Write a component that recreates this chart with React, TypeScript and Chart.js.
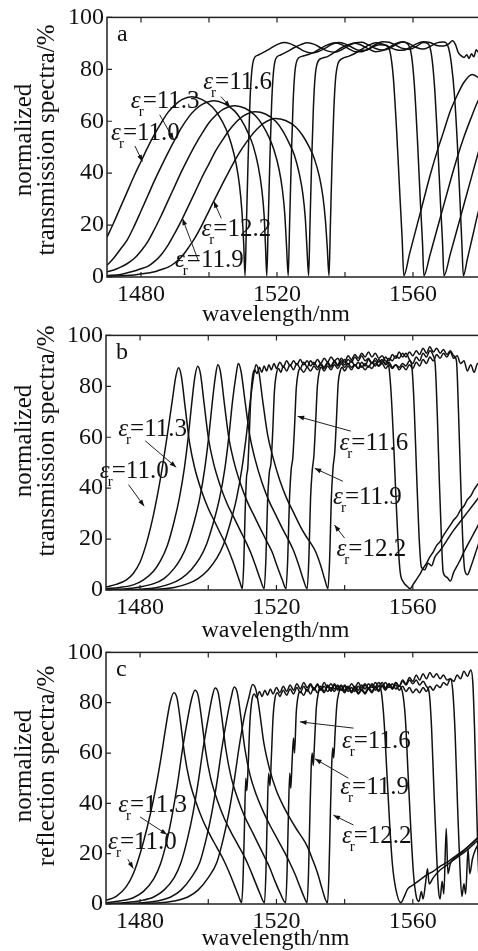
import React, { useEffect, useRef } from 'react';
import { Chart, registerables } from 'chart.js';
Chart.register(...registerables);

type P = [number, number];

const xTicks = [1480, 1500, 1520, 1540, 1560, 1580];
const xLabeled = [1480, 1520, 1560];
const yTicks = [0, 20, 40, 60, 80, 100];
const epsValues = ['11.0', '11.3', '11.6', '11.9', '12.2'];

// ---------- panel a: transmission (case a) ----------
const a110: P[] = [
  [1470, 15.3], [1472, 21], [1474, 27], [1476, 33], [1478, 39], [1480, 44.5], [1482, 50], [1484, 55], [1486, 59.5], [1488, 63.5],
  [1490, 66.3], [1492, 68.3], [1495, 69.4], [1498, 68.3], [1501, 65.5], [1503, 62], [1505, 57], [1506.5, 51.5], [1508, 43.5], [1509, 35], [1509.7, 25],
  [1510.2, 13], [1510.6, 0.5], [1511, 20], [1511.5, 45], [1512, 66], [1512.5, 78], [1513.2, 84], [1514.5, 85.5], [1516, 86.5], [1518, 88], [1520, 89.5],
  [1522, 90.3], [1524, 89.8], [1526, 88.5], [1528, 87], [1530, 86.3], [1532, 86.8], [1534, 88], [1536, 89.5], [1538, 90.3], [1540, 89.8], [1542, 88.5],
  [1544, 87.3], [1546, 87.3], [1548, 88.5], [1550, 89.5], [1552, 89.3], [1553.2, 87], [1554.2, 77], [1555.2, 56], [1556.2, 30], [1556.8, 15], [1557.3, 0.5],
  [1559, 9], [1561, 19], [1563, 29], [1565, 39], [1567, 48], [1569, 56], [1571, 64], [1573, 70], [1575, 75], [1577.4, 78], [1579, 77], [1580, 76],
];
const a113: P[] = [
  [1470, 4.5], [1472, 7.3], [1474, 10.8], [1476, 14.4], [1478, 19.6], [1480, 25.4], [1482, 31.3], [1484, 37.2], [1486, 42.7], [1488, 48], [1490, 53],
  [1492, 57.7], [1494, 61.6], [1496, 64.5], [1498, 66.5], [1501.5, 67.9], [1504.5, 66.8], [1507.5, 64], [1509.5, 60.5], [1511.5, 55.5], [1513, 50.5],
  [1514.5, 42.5], [1515.5, 34], [1516.2, 24], [1516.6, 12.5], [1517, 0.5], [1517.4, 20], [1517.9, 45], [1518.4, 66], [1518.9, 78], [1519.6, 84],
  [1521, 85.5], [1523, 86.8], [1525, 88.3], [1527, 89.5], [1529, 90.2], [1531, 89.6], [1533, 88.2], [1535, 87], [1537, 86.6], [1539, 87.5],
  [1541, 89], [1543, 90.2], [1545, 90.4], [1547, 89.3], [1549, 88], [1551, 87.4], [1553, 88], [1555, 89.5], [1557, 90.5], [1558.6, 89.5],
  [1559.6, 85], [1560.4, 74], [1561.3, 53], [1562.2, 28], [1562.8, 13], [1563.2, 0.5], [1565, 8.5], [1567, 18], [1569, 27.5], [1571, 37], [1573, 46],
  [1575, 54], [1577, 61], [1579, 67.5], [1580, 70],
];
const a116: P[] = [
  [1470, 2], [1472, 2.7], [1474, 3.8], [1476, 5.2], [1478, 7.1], [1480, 10], [1482, 13.6], [1484, 18.5], [1486, 23.8], [1488, 29.5], [1490, 35.2],
  [1492, 40.9], [1494, 46.1], [1496, 51], [1498, 55.4], [1500, 59.4], [1502, 62.3], [1504, 64.5], [1507.6, 66], [1510.6, 65], [1513.6, 62.2],
  [1515.6, 58.8], [1517.6, 54], [1519.1, 49], [1520.6, 41.5], [1521.6, 33.5], [1522.3, 24], [1522.8, 12], [1523.3, 0.5], [1523.7, 20], [1524.2, 45],
  [1524.7, 66], [1525.2, 78], [1525.9, 83.5], [1527.3, 85], [1529, 85.6], [1531, 86.6], [1533, 88.2], [1535, 89.5], [1537, 90.2], [1539, 89.5],
  [1541, 88], [1543, 86.8], [1545, 86.8], [1547, 88], [1549, 89.6], [1551, 90.6], [1553, 90.4], [1555, 89.2], [1557, 88], [1559, 87.7],
  [1561, 88.8], [1563, 90.3], [1564.5, 89.8], [1565.5, 85], [1566.3, 74], [1567.2, 53], [1568.1, 28], [1568.7, 13], [1569.1, 0.5], [1571, 9],
  [1573, 18.5], [1575, 28], [1577, 37.5], [1579, 47], [1580, 51.5],
];
const a119: P[] = [
  [1470, 0.6], [1474, 1], [1476, 1.6], [1478, 2.3], [1480, 3.2], [1482, 4.1], [1484, 6], [1486, 8.7], [1488, 12.4], [1490, 17], [1492, 22],
  [1494, 27.5], [1496, 33], [1498, 38.6], [1500, 43.6], [1502, 48.7], [1504, 52.8], [1506, 56.6], [1508, 59.7], [1510, 62], [1513.6, 63.7],
  [1516.6, 62.8], [1519.6, 60], [1521.6, 56.5], [1523.6, 51.5], [1525.1, 47], [1526.6, 39.5], [1527.6, 32], [1528.3, 23], [1528.8, 11.5],
  [1529.3, 0.5], [1529.7, 20], [1530.2, 45], [1530.7, 65], [1531.2, 77], [1531.9, 82.5], [1533.3, 84.3], [1535, 85], [1537, 86.6], [1539, 88.3],
  [1541, 89.5], [1543, 90], [1545, 89.2], [1547, 87.8], [1549, 86.8], [1551, 87.2], [1553, 88.5], [1555, 90], [1557, 90.6], [1559, 89.8],
  [1561, 88.4], [1563, 87.8], [1565, 88.8], [1567, 90.2], [1569, 90.5], [1570.4, 88.5], [1571.3, 82], [1572.2, 70], [1573.1, 50], [1573.9, 27],
  [1574.4, 12], [1574.8, 0.5], [1576, 7], [1577.5, 15.5], [1579, 24], [1580, 29],
];
const a122: P[] = [
  [1470, 0.2], [1478, 0.8], [1482, 1.5], [1484, 2], [1486, 2.9], [1488, 3.8], [1490, 5.5], [1492, 7.9], [1494, 11.4], [1496, 15.4], [1498, 20.2],
  [1500, 25.5], [1502, 30.8], [1504, 36], [1506, 41], [1508, 45.8], [1510, 50], [1512, 53.7], [1514, 56.8], [1516, 59.2], [1519.5, 61.1],
  [1522.5, 60.3], [1525.5, 57.8], [1527.5, 54.6], [1529.5, 50], [1531, 45.5], [1532.5, 38.5], [1533.5, 31], [1534.2, 22.5], [1534.8, 11],
  [1535.3, 0.5], [1535.7, 20], [1536.2, 45], [1536.7, 64], [1537.2, 76], [1537.9, 82], [1539.3, 84.2], [1541, 85], [1543, 86.2], [1545, 87.8],
  [1547, 89.3], [1549, 90.2], [1551, 89.8], [1553, 88.6], [1555, 87.5], [1557, 87.3], [1559, 88.3], [1561, 89.8], [1563, 90.6], [1565, 90.3],
  [1567, 89.2], [1569, 89], [1570.5, 89.8], [1571.6, 91], [1572.5, 89.5], [1573.3, 86.5], [1574.2, 85.2], [1575, 84.6], [1575.8, 85.6],
  [1576.5, 84.2], [1577.2, 86], [1577.9, 84.8], [1578.6, 87.5], [1579.3, 86.5], [1580, 88.5],
];

// ---------- panel b: transmission (case b) ----------
const b110: P[] = [
  [1470, 1.2], [1473, 2.2], [1476, 4], [1478, 6.5], [1480, 11], [1482, 19], [1484, 30], [1486, 44], [1488, 61], [1489.5, 75], [1490.5, 84],
  [1491.3, 87.3], [1492.1, 84], [1493.2, 72], [1494.5, 58], [1496, 48], [1498, 39], [1500, 32], [1502, 26.5], [1504, 21], [1505.5, 17],
  [1507, 12], [1508.3, 7], [1509.3, 3], [1510, 0.5], [1510.4, 10], [1510.8, 30], [1511.2, 44], [1511.6, 48], [1512, 60], [1512.5, 76],
  [1513, 84], [1513.6, 86.5], [1514.3, 85], [1515, 87.5], [1515.7, 85.5], [1516.4, 88], [1517.1, 86], [1517.8, 88.5], [1518.5, 86.5],
  [1519.3, 89], [1520, 87], [1521, 89.5], [1522, 87.5], [1523, 90], [1524, 88], [1525, 90], [1526, 88.5], [1527, 90.5], [1528, 88.5],
  [1529, 90], [1530, 88], [1531, 89.5], [1532, 87.5], [1533, 89], [1534, 87.5], [1535, 89.5], [1536, 88], [1537, 90], [1538, 88.5],
  [1539, 91], [1540, 89.5], [1541, 92], [1542, 90.5], [1543, 92.5], [1544, 91], [1545, 93], [1546, 91.5], [1547, 93.5], [1548, 91.5],
  [1549, 93], [1550, 91], [1551, 92], [1552, 90], [1552.8, 89], [1553.5, 80], [1554.3, 60], [1555, 38], [1555.7, 18], [1556.3, 7],
  [1557.3, 3], [1558.3, 1.5], [1559.2, 0.5], [1560, 2], [1561, 4], [1562, 6], [1563, 8.5], [1564, 10.5], [1565, 13], [1566, 15],
  [1567, 17.5], [1568, 19], [1569, 21.5], [1570, 23.5], [1571, 25.5], [1572, 27.5], [1573, 29], [1574, 31.5], [1575, 33], [1576, 35.5],
  [1577, 37], [1578, 39.5], [1579, 41.5], [1580, 43.5],
];
const b113: P[] = [
  [1470, 0.5], [1474, 1], [1478, 2], [1481, 4], [1484, 7.5], [1486, 11.5], [1488, 17.5], [1490, 27], [1491.5, 36], [1493, 48], [1494.2, 61],
  [1495.2, 74], [1496.1, 84], [1496.9, 87.9], [1497.7, 85], [1498.8, 73], [1500, 60], [1501.5, 50], [1503.5, 41], [1505.5, 34], [1507.5, 28.5],
  [1509.5, 23], [1511, 19], [1512.5, 14.5], [1514, 9], [1515.3, 4], [1516.4, 0.5], [1516.9, 12], [1517.4, 35], [1517.9, 46], [1518.4, 50],
  [1518.9, 62], [1519.4, 78], [1520, 85], [1520.6, 87], [1521.3, 85.5], [1522, 88], [1523, 86], [1524, 88.5], [1525, 86.5], [1526, 89],
  [1527, 87], [1528, 89.5], [1529, 87.5], [1530, 90], [1531, 88.5], [1532, 90.5], [1533, 89], [1534, 91], [1535, 89.5], [1536, 91.5],
  [1537, 90], [1538, 91], [1539, 89], [1540, 90.5], [1541, 88.5], [1542, 90], [1543, 88], [1544, 89.5], [1545, 87.5], [1546, 89],
  [1547, 87.5], [1548, 89.5], [1549, 88], [1550, 90.5], [1551, 89], [1552, 91.5], [1553, 90], [1554, 92.5], [1555, 91], [1556, 93.5],
  [1557, 91.5], [1558, 93], [1559, 90.5], [1559.7, 88], [1560.4, 72], [1561.1, 46], [1561.8, 22], [1562.5, 9], [1563.5, 8],
  [1564.5, 10.5], [1565.5, 9.5], [1566.5, 13], [1568, 15.5], [1570, 19.5], [1572, 23.5], [1574, 27], [1576, 30.5], [1578, 34], [1580, 37.5],
];
const b116: P[] = [
  [1470, 0.2], [1476, 0.5], [1480, 1.2], [1484, 2.5], [1487, 4.5], [1490, 8.5], [1492, 12.5], [1494, 18.5], [1496, 27.5], [1497.5, 36],
  [1499, 48], [1500.2, 61], [1501.2, 74], [1502.1, 84], [1502.8, 88.5], [1503.6, 85.5], [1504.7, 73.5], [1506, 60], [1507.5, 50.5],
  [1509.5, 41.5], [1511.5, 34.5], [1513.5, 29], [1515.5, 23.5], [1517, 19.5], [1518.7, 15], [1520.3, 9], [1521.7, 4], [1522.8, 0.5],
  [1523.3, 12], [1523.8, 35], [1524.3, 47], [1524.8, 52], [1525.3, 64], [1525.8, 79], [1526.4, 85.5], [1527, 87], [1528, 85.5], [1529, 87.5],
  [1530, 86], [1531, 88], [1532, 86.5], [1533, 88.5], [1534, 87], [1535, 89], [1536, 87.5], [1537, 89.5], [1538, 88], [1539, 90],
  [1540, 88.5], [1541, 90.5], [1542, 89.5], [1543, 91.5], [1544, 90], [1545, 92], [1546, 90], [1547, 91], [1548, 89], [1549, 90],
  [1550, 88], [1551, 89], [1552, 87], [1553, 88.5], [1554, 87], [1555, 88.5], [1556, 87.5], [1557, 89], [1558, 88], [1559, 90],
  [1560, 89], [1561, 91.5], [1562, 90], [1563, 93], [1564, 91.5], [1565, 94], [1566, 92], [1566.6, 88], [1567.2, 68], [1567.8, 42],
  [1568.4, 20], [1568.9, 7], [1570, 5], [1571, 3.5], [1572, 7], [1573, 9.5], [1574, 12], [1575, 15], [1576, 17.5], [1577, 20], [1578, 22.5],
  [1579, 25], [1580, 28],
];
const b119: P[] = [
  [1470, 0], [1480, 0.3], [1485, 1], [1489, 2.5], [1492, 4.5], [1495, 8], [1497.5, 12.5], [1499.5, 18], [1501.5, 26.5], [1503.3, 36],
  [1504.9, 48], [1506.1, 61], [1507.1, 74], [1508.1, 84], [1508.8, 89], [1509.6, 86], [1510.8, 74], [1512.2, 60.5], [1513.8, 51],
  [1515.8, 42], [1517.8, 35], [1519.8, 29.5], [1521.8, 24], [1523.4, 20], [1525, 15.5], [1526.6, 9.5], [1527.9, 4], [1529, 0.5],
  [1529.5, 12], [1530, 36], [1530.5, 47], [1531, 53], [1531.5, 66], [1532, 80], [1532.6, 86], [1533.2, 87.5], [1534, 86], [1535, 88],
  [1536, 86.5], [1537, 88.5], [1538, 87], [1539, 89], [1540, 87.5], [1541, 89], [1542, 87.5], [1543, 88.5], [1544, 87], [1545, 88],
  [1546, 86.5], [1547, 88], [1548, 87], [1549, 89], [1550, 88], [1551, 90], [1552, 89], [1553, 91], [1554, 90], [1555, 92], [1556, 91],
  [1557, 93], [1558, 91.5], [1559, 93.5], [1560, 92], [1561, 94], [1562, 92.5], [1563, 95], [1564, 93], [1565, 95.5], [1566, 93.5],
  [1567, 95], [1568, 93], [1569, 94.5], [1570, 92.5], [1571, 94], [1572, 92], [1572.8, 90], [1573.4, 70], [1574, 44], [1574.6, 21],
  [1575.2, 8], [1576, 6], [1577, 9], [1578, 13], [1579, 17], [1580, 21],
];
const b122: P[] = [
  [1470, 0], [1485, 0.3], [1490, 1], [1494, 2.5], [1497, 4.5], [1500, 8], [1502.5, 12.5], [1504.5, 18], [1506.5, 26.5], [1508.3, 36],
  [1509.9, 48], [1511.2, 61], [1512.3, 74], [1513.3, 84], [1514, 88.5], [1514.8, 86], [1516, 74], [1517.4, 61], [1519, 52], [1521, 43],
  [1523, 36], [1525, 30.5], [1527, 25], [1528.5, 21.5], [1530, 18.5], [1531.5, 15], [1533, 9.5], [1534.2, 4], [1535.1, 0.5], [1535.6, 12],
  [1536.1, 36], [1536.6, 48], [1537.1, 54], [1537.6, 67], [1538.1, 81], [1538.7, 86], [1539.3, 87.5], [1540, 86], [1541, 88], [1542, 86.5],
  [1543, 88.5], [1544, 87], [1545, 89.5], [1546, 88], [1547, 90.5], [1548, 89], [1549, 91], [1550, 89.5], [1551, 90.5], [1552, 88.5],
  [1553, 89.5], [1554, 87.5], [1555, 88.5], [1556, 86.5], [1557, 88], [1558, 86.5], [1559, 88.5], [1560, 87], [1561, 89.5], [1562, 88],
  [1563, 90.5], [1564, 89], [1565, 91.5], [1566, 90], [1567, 92.5], [1568, 91], [1569, 93], [1570, 91.5], [1571, 93.5], [1572, 91],
  [1573, 92], [1574, 89], [1575, 90], [1576, 86], [1577, 88.5], [1578, 85.5], [1579, 89], [1580, 87],
];

// ---------- panel c: reflection ----------
const c110: P[] = [
  [1470, 1.5], [1473, 3], [1476, 7], [1478, 12], [1480, 20], [1482, 30], [1484, 42], [1486, 57], [1487.5, 70], [1488.8, 80], [1489.9, 84],
  [1490.8, 82], [1491.8, 73], [1493, 60], [1494.5, 49], [1496.5, 40], [1498.5, 33], [1500.5, 27.5], [1502.5, 22.5], [1504.5, 17.5],
  [1506, 13], [1507.5, 8], [1508.8, 3.5], [1509.8, 0.5], [1510.2, 10], [1510.6, 30], [1511, 50], [1511.3, 45], [1511.7, 55], [1512.2, 72],
  [1512.8, 81], [1513.5, 83.5], [1514.2, 82], [1515, 84.5], [1515.8, 82.5], [1516.6, 85], [1517.4, 83], [1518.2, 85.5], [1519, 83.5],
  [1520, 86], [1521, 84], [1522, 86.5], [1523, 84.5], [1524, 87], [1525, 85], [1526, 87.5], [1527, 85.5], [1528, 88], [1529, 86],
  [1530, 87.5], [1531, 85.5], [1532, 87], [1533, 85], [1534, 86.5], [1535, 84.5], [1536, 86], [1537, 84.5], [1538, 86.5], [1539, 85],
  [1540, 87], [1541, 85.5], [1542, 87.5], [1543, 86], [1544, 88], [1545, 86], [1546, 87.5], [1547, 85.5], [1548, 87], [1549, 85],
  [1550, 86.5], [1550.8, 84], [1551.6, 72], [1552.4, 52], [1553.2, 32], [1554, 16], [1555, 6], [1556.5, 0.5], [1557.5, 3], [1558.5, 6],
  [1560, 7.5], [1562, 9.5], [1564, 11.5], [1566, 13], [1568, 15], [1570, 16.5], [1572, 18.5], [1574, 20.5], [1576, 22.5], [1578, 25], [1580, 27.5],
];
const c113: P[] = [
  [1470, 0.5], [1474, 1.2], [1478, 2.5], [1481, 5], [1484, 10], [1486, 16], [1488, 26], [1489.5, 36], [1491, 48], [1492.5, 62], [1494, 74],
  [1495.2, 82], [1496.1, 85], [1497, 83], [1498, 74], [1499.2, 61], [1500.7, 50], [1502.7, 41], [1504.7, 34], [1506.7, 28.5], [1508.7, 23.5],
  [1510.7, 18.5], [1512.2, 14], [1513.7, 9], [1515.2, 4], [1516.5, 0.5], [1516.9, 12], [1517.3, 35], [1517.7, 52], [1518.1, 47], [1518.5, 58],
  [1519, 74], [1519.6, 82], [1520.3, 84], [1521, 82.5], [1522, 85], [1523, 83], [1524, 85.5], [1525, 83.5], [1526, 86], [1527, 84],
  [1528, 86.5], [1529, 84.5], [1530, 87], [1531, 85], [1532, 87.5], [1533, 85.5], [1534, 88], [1535, 86], [1536, 87.5], [1537, 85.5],
  [1538, 87], [1539, 85], [1540, 86.5], [1541, 84.5], [1542, 86], [1543, 84.5], [1544, 86.5], [1545, 85], [1546, 87], [1547, 85.5],
  [1548, 87.5], [1549, 86], [1550, 88], [1551, 86.5], [1552, 88], [1553, 86], [1554, 87.5], [1555, 85.5], [1556, 86.5], [1557, 84],
  [1557.8, 74], [1558.6, 52], [1559.4, 30], [1560.2, 12], [1561, 3], [1561.8, 1], [1562.5, 5], [1563, 2], [1563.8, 9], [1564.3, 14],
  [1564.8, 8], [1566, 10.5], [1568, 13.5], [1570, 15.5], [1572, 17.5], [1574, 19.5], [1576, 21.5], [1578, 24], [1580, 26.5],
];
const c116: P[] = [
  [1470, 0.2], [1476, 0.6], [1480, 1.3], [1484, 2.8], [1487, 5.5], [1490, 10.5], [1492, 16.5], [1494, 26.5], [1495.5, 36], [1497, 48],
  [1498.5, 62], [1500, 74], [1501.1, 82], [1502, 85.9], [1502.9, 84], [1503.9, 75], [1505.1, 62], [1506.6, 51], [1508.6, 42], [1510.6, 35],
  [1512.6, 29.5], [1514.6, 24], [1516.4, 19], [1518, 14.5], [1519.6, 9], [1521.2, 4], [1522.7, 0.5], [1523.1, 12], [1523.5, 35],
  [1523.9, 52], [1524.2, 46], [1524.6, 57], [1525, 66], [1525.3, 60], [1525.8, 76], [1526.4, 83], [1527, 84.5], [1528, 83], [1529, 85.5],
  [1530, 83.5], [1531, 86], [1532, 84], [1533, 86.5], [1534, 84.5], [1535, 87], [1536, 85], [1537, 87.5], [1538, 85.5], [1539, 87],
  [1540, 85], [1541, 86.5], [1542, 84.5], [1543, 86], [1544, 84], [1545, 85.5], [1546, 84], [1547, 86], [1548, 84.5], [1549, 86.5],
  [1550, 85], [1551, 87], [1552, 85.5], [1553, 87.5], [1554, 86], [1555, 88], [1556, 86.5], [1557, 88.5], [1558, 87], [1559, 89],
  [1560, 87.5], [1561, 89], [1562, 87], [1563, 88.5], [1564, 86.5], [1564.8, 84], [1565.5, 70], [1566.2, 45], [1566.9, 22],
  [1567.5, 6], [1568, 2], [1568.6, 9], [1569.1, 4], [1569.8, 30], [1570.3, 12], [1571, 16], [1572, 18], [1574, 20], [1576, 22.5],
  [1578, 25], [1580, 27.5],
];
const c119: P[] = [
  [1470, 0], [1480, 0.4], [1485, 1.2], [1489, 2.8], [1492, 5.5], [1495, 10.5], [1497.5, 16.5], [1499.5, 26.5], [1501, 36], [1502.5, 48],
  [1504, 62], [1505.5, 74], [1506.7, 82], [1507.6, 86.2], [1508.5, 84], [1509.5, 75], [1510.7, 62], [1512.2, 51.5], [1514.2, 43],
  [1516.2, 36.5], [1518.2, 31], [1520.2, 26], [1522, 21.5], [1523.7, 17], [1525.4, 12], [1527, 6.5], [1528.2, 2.5], [1529, 0.5],
  [1529.4, 12], [1529.8, 35], [1530.2, 55], [1530.5, 60], [1530.8, 55], [1531.2, 65], [1531.7, 78], [1532.3, 84], [1533, 85.5],
  [1534, 84], [1535, 86.5], [1536, 84.5], [1537, 87], [1538, 85], [1539, 86.5], [1540, 84.5], [1541, 86], [1542, 84], [1543, 85.5],
  [1544, 83.5], [1545, 85], [1546, 83.5], [1547, 85.5], [1548, 84], [1549, 86], [1550, 84.5], [1551, 86.5], [1552, 85], [1553, 87],
  [1554, 85.5], [1555, 88], [1556, 86.5], [1557, 89], [1558, 87.5], [1559, 90], [1560, 88.5], [1561, 91], [1562, 89], [1563, 91.5],
  [1564, 89.5], [1565, 92], [1566, 90], [1567, 91.5], [1568, 89.5], [1569, 91], [1570, 89], [1571, 89.5], [1571.7, 85], [1572.4, 68],
  [1573.1, 40], [1573.8, 15], [1574.4, 3], [1575, 8], [1575.5, 4], [1576.2, 22], [1576.7, 12], [1577.5, 18], [1578.5, 22], [1580, 25],
];
const c122: P[] = [
  [1470, 0], [1485, 0.4], [1490, 1.2], [1494, 2.8], [1497, 5.5], [1500, 10.5], [1502.5, 16.5], [1504.5, 26.5], [1506, 36], [1507.5, 48],
  [1509, 62], [1510.5, 74], [1511.9, 82], [1513, 87.2], [1514, 85], [1515, 77], [1516.3, 64], [1518, 53.5], [1520, 45], [1522, 39],
  [1524, 34], [1526, 29.5], [1527.5, 26.5], [1529, 23], [1530.5, 18], [1532, 12.5], [1533.4, 6], [1534.3, 2], [1535, 0.5], [1535.4, 12],
  [1535.8, 35], [1536.2, 55], [1536.5, 62], [1536.8, 58], [1537.2, 68], [1537.7, 79], [1538.3, 84], [1539, 85.5], [1540, 84], [1541, 86],
  [1542, 84.5], [1543, 86.5], [1544, 85], [1545, 87], [1546, 85.5], [1547, 87.5], [1548, 86], [1549, 88], [1550, 86.5], [1551, 88],
  [1552, 86], [1553, 87.5], [1554, 85.5], [1555, 87], [1556, 85], [1557, 86.5], [1558, 84.5], [1559, 86], [1560, 84], [1561, 85.5],
  [1562, 84], [1563, 86], [1564, 84.5], [1565, 86.5], [1566, 85], [1567, 87], [1568, 86], [1569, 88], [1570, 87], [1571, 89.5],
  [1572, 88.5], [1573, 91], [1574, 89.5], [1575, 92.5], [1576, 90.5], [1577, 93], [1577.6, 88], [1578.1, 70], [1578.6, 45],
  [1579.1, 20], [1579.6, 6], [1580, 10],
];

type Note = { v: string; x: number; y: number; arrow: [number, number, number, number] };

const notesA: Note[] = [
  { v: epsValues[0], x: 1471.2, y: 52.8, arrow: [1478.2, 50.5, 1480.4, 44.5] },
  { v: epsValues[1], x: 1477, y: 65, arrow: [1485.5, 62.5, 1489.6, 53] },
  { v: epsValues[2], x: 1498.3, y: 72.4, arrow: [1503.5, 69.5, 1506.2, 65.5] },
  { v: epsValues[3], x: 1490, y: 3.8, arrow: [1496.8, 6.5, 1492.2, 22.5] },
  { v: epsValues[4], x: 1497.8, y: 15.9, arrow: [1503.6, 22.6, 1501.4, 29.2] },
];
const notesB: Note[] = [
  { v: epsValues[0], x: 1468.2, y: 44, arrow: [1476.6, 41.4, 1481.2, 32.9] },
  { v: epsValues[1], x: 1473.6, y: 60.5, arrow: [1481.5, 58.6, 1490.6, 48.2] },
  { v: epsValues[2], x: 1538.5, y: 54.8, arrow: [1541.8, 62.4, 1526.2, 68.2] },
  { v: epsValues[3], x: 1536.6, y: 33.8, arrow: [1539.5, 42.7, 1531.2, 47.8] },
  { v: epsValues[4], x: 1537.6, y: 13.4, arrow: [1540, 20.4, 1537, 25.5] },
];
const notesC: Note[] = [
  { v: epsValues[0], x: 1470.6, y: 21.8, arrow: [1476.4, 17.8, 1478, 14.1] },
  { v: epsValues[1], x: 1473.6, y: 36.5, arrow: [1480, 34.6, 1487.9, 27.6] },
  { v: epsValues[2], x: 1539.2, y: 62.2, arrow: [1542.6, 69.9, 1526.9, 72.4] },
  { v: epsValues[3], x: 1538.7, y: 43.6, arrow: [1541.1, 50, 1531.3, 57.7] },
  { v: epsValues[4], x: 1539.2, y: 24.4, arrow: [1542.6, 31.4, 1536.7, 35.3] },
];

const SERIF = '"Liberation Serif", "Times New Roman", serif';
const CW = 490;

type PanelDef = {
  curves: P[][];
  notes: Note[];
  letter: string;
  title2: string;
  top: number; height: number; plotTop: number; plotBottom: number; plotLeft: number;
  titleY: number; xTitleY: number;
};

const panels: PanelDef[] = [
  { curves: [a110, a113, a116, a119, a122], notes: notesA, letter: 'a', title2: 'transmission spectra/%',
    top: 0, height: 330, plotTop: 15, plotBottom: 277, plotLeft: 107, titleY: 140, xTitleY: 315 },
  { curves: [b110, b113, b116, b119, b122], notes: notesB, letter: 'b', title2: 'transmission spectra/%',
    top: 318, height: 330, plotTop: 328, plotBottom: 590, plotLeft: 106, titleY: 441, xTitleY: 631 },
  { curves: [c110, c113, c116, c119, c122], notes: notesC, letter: 'c', title2: 'reflection spectra/%',
    top: 635, height: 316, plotTop: 645, plotBottom: 904, plotLeft: 106, titleY: 766, xTitleY: 939 },
];

function Panel({ def }: { def: PanelDef }) {
  const ref = useRef<HTMLCanvasElement | null>(null);
  useEffect(() => {
    const canvas = ref.current;
    if (!canvas) return;
    const relTop = def.plotTop - def.top;
    const relBottom = def.plotBottom - def.top;
    const decor = {
      id: 'decor',
      afterDraw(chart: any) {
        const ctx = chart.ctx as CanvasRenderingContext2D;
        const { left, right, top, bottom } = chart.chartArea;
        const xs = chart.scales.x;
        const ys = chart.scales.y;
        ctx.save();
        ctx.strokeStyle = '#222';
        ctx.lineWidth = 1.5;
        ctx.strokeRect(left, top, right - left, bottom - top);
        ctx.lineWidth = 1.2;
        ctx.beginPath();
        for (const v of xTicks) {
          const px = xs.getPixelForValue(v);
          ctx.moveTo(px, bottom); ctx.lineTo(px, bottom - 5);
          ctx.moveTo(px, top); ctx.lineTo(px, top + 5);
        }
        for (const v of yTicks) {
          const py = ys.getPixelForValue(v);
          ctx.moveTo(left, py); ctx.lineTo(left + 5, py);
        }
        ctx.stroke();
        // panel letter
        ctx.fillStyle = '#111';
        ctx.font = `24px ${SERIF}`;
        ctx.textAlign = 'left';
        ctx.textBaseline = 'alphabetic';
        ctx.fillText(def.letter, left + 10, top + 24);
        // annotations
        for (const n of def.notes) {
          const px = xs.getPixelForValue(n.x);
          const py = ys.getPixelForValue(n.y);
          ctx.font = `italic 25px ${SERIF}`;
          ctx.fillText('\u03b5', px, py);
          const we = ctx.measureText('\u03b5').width;
          ctx.font = `15px ${SERIF}`;
          ctx.fillText('r', px + we - 2, py + 8);
          ctx.font = `25px ${SERIF}`;
          ctx.fillText('=' + n.v, px + we + 2, py);
          const [x1, y1, x2, y2] = n.arrow;
          const ax1 = xs.getPixelForValue(x1), ay1 = ys.getPixelForValue(y1);
          const ax2 = xs.getPixelForValue(x2), ay2 = ys.getPixelForValue(y2);
          ctx.lineWidth = 1;
          ctx.beginPath(); ctx.moveTo(ax1, ay1); ctx.lineTo(ax2, ay2); ctx.stroke();
          const ang = Math.atan2(ay2 - ay1, ax2 - ax1);
          ctx.beginPath();
          ctx.moveTo(ax2, ay2);
          ctx.lineTo(ax2 - 7 * Math.cos(ang - 0.35), ay2 - 7 * Math.sin(ang - 0.35));
          ctx.lineTo(ax2 - 7 * Math.cos(ang + 0.35), ay2 - 7 * Math.sin(ang + 0.35));
          ctx.closePath(); ctx.fill();
        }
        // axis titles
        ctx.font = `24px ${SERIF}`;
        ctx.textAlign = 'center';
        ctx.textBaseline = 'middle';
        ctx.fillText('wavelength/nm', (xs.getPixelForValue(1520) - 1), def.xTitleY - def.top);
        ctx.font = `25px ${SERIF}`;
        ctx.save();
        ctx.translate(24, def.titleY - def.top);
        ctx.rotate(-Math.PI / 2);
        ctx.fillText('normalized', 0, 0);
        ctx.restore();
        ctx.save();
        ctx.translate(47, def.titleY - def.top);
        ctx.rotate(-Math.PI / 2);
        ctx.fillText(def.title2, 0, 0);
        ctx.restore();
        ctx.restore();
      },
    };
    const chart = new Chart(canvas, {
      type: 'line',
      data: {
        datasets: def.curves.map((c, i) => ({
          label: epsValues[i],
          data: c.map(([x, y]) => ({ x, y })),
          borderColor: '#111',
          borderWidth: 1.5,
          pointRadius: 0,
          fill: false,
          cubicInterpolationMode: 'monotone' as const,
        })),
      },
      options: {
        animation: false,
        responsive: false,
        maintainAspectRatio: false,
        events: [],
        layout: { padding: { left: 0, right: CW - 481, top: relTop, bottom: 0 } },
        plugins: { legend: { display: false }, tooltip: { enabled: false }, title: { display: false } },
        scales: {
          x: {
            type: 'linear', min: 1470, max: 1580,
            grid: { display: false, drawTicks: false },
            border: { display: false },
            afterFit: (s: any) => { s.height = def.height - relBottom; },
            afterBuildTicks: (s: any) => { s.ticks = xTicks.map((v) => ({ value: v })); },
            ticks: {
              color: '#111', padding: 3, maxRotation: 0, autoSkip: false,
              font: { family: SERIF, size: 24 },
              callback: (v: any) => (xLabeled.includes(Number(v)) ? String(v) : ''),
            },
          },
          y: {
            min: 0, max: 100,
            grid: { display: false, drawTicks: false },
            border: { display: false },
            afterFit: (s: any) => { s.width = def.plotLeft; },
            afterBuildTicks: (s: any) => { s.ticks = yTicks.map((v) => ({ value: v })); },
            ticks: { color: '#111', padding: 3, font: { family: SERIF, size: 24 } },
          },
        },
      },
      plugins: [decor],
    });
    return () => chart.destroy();
  }, [def]);
  return (
    <canvas
      ref={ref}
      width={CW}
      height={def.height}
      style={{ position: 'absolute', left: 0, top: def.top, width: CW, height: def.height }}
    />
  );
}

export default function App() {
  return (
    <div style={{ position: 'absolute', left: 0, top: 0, width: 478, height: 951, overflow: 'hidden', background: '#fff' }}>
      {panels.map((p) => (
        <Panel key={p.letter} def={p} />
      ))}
    </div>
  );
}
